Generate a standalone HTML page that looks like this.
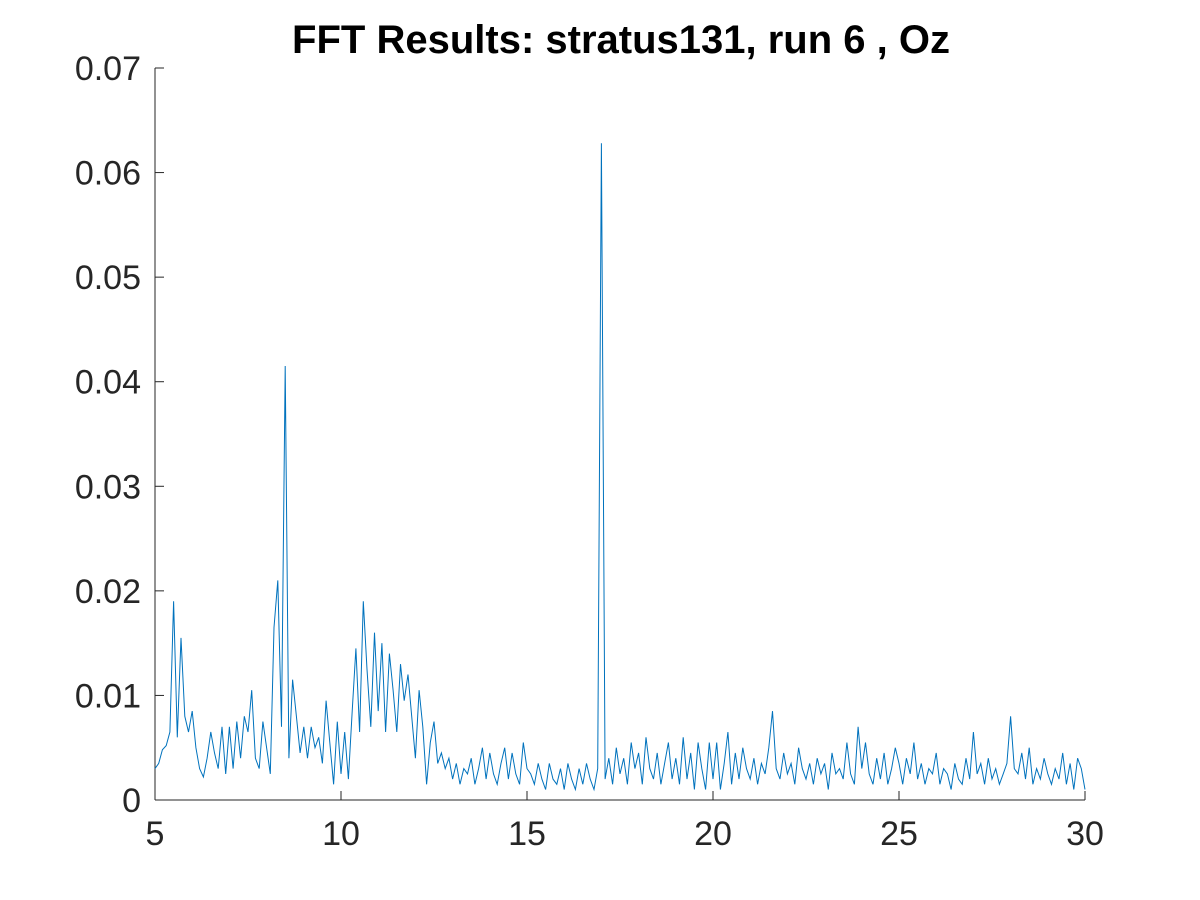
<!DOCTYPE html>
<html><head><meta charset="utf-8"><style>
body{margin:0;background:#fff}
svg{display:block}
text{font-family:"Liberation Sans",sans-serif;fill:#262626}
</style></head><body>
<svg id="chart" width="1200" height="900" xmlns="http://www.w3.org/2000/svg">
<rect width="1200" height="900" fill="#fff"/>
<text x="621" y="53" text-anchor="middle" font-size="40" font-weight="bold" style="fill:#000">FFT Results: stratus131, run 6 , Oz</text>
<g id="axes"></g>
<path id="series" fill="none" stroke="#0072BD" stroke-width="1"/>
</svg>
<script>
const xStart = 5;
const xStep = 0.1;
const amps = [
3.0,3.5,4.8,5.2,6.5,19.0,6.0,15.5,8.0,6.5,
8.5,5.0,3.0,2.2,4.0,6.5,4.5,3.0,7.0,2.5,
7.0,3.0,7.5,4.0,8.0,6.5,10.5,4.0,3.0,7.5,
5.0,2.5,16.5,21.0,7.0,41.5,4.0,11.5,8.0,4.5,
7.0,4.0,7.0,5.0,6.0,3.5,9.5,5.5,1.5,7.5,
2.5,6.5,2.0,8.5,14.5,6.5,19.0,12.5,7.0,16.0,
8.5,15.0,6.5,14.0,10.5,6.5,13.0,9.5,12.0,8.0,
4.0,10.5,7.0,1.5,5.5,7.5,3.5,4.5,3.0,4.0,
2.0,3.5,1.5,3.0,2.5,4.0,1.5,3.0,5.0,2.0,
4.5,2.5,1.5,3.5,5.0,2.0,4.5,2.5,1.5,5.5,
3.0,2.5,1.5,3.5,2.0,1.0,3.5,2.0,1.5,3.0,
1.0,3.5,2.0,1.0,3.0,1.5,3.5,2.0,1.0,3.0,
62.8,2.0,4.0,1.5,5.0,2.5,4.0,1.5,5.5,3.0,
4.5,1.5,6.0,3.0,2.0,4.5,1.5,3.5,5.5,2.0,
4.0,1.5,6.0,2.0,4.5,1.0,5.5,3.0,1.0,5.5,
2.0,5.5,1.0,3.5,6.5,1.5,4.5,2.0,5.0,3.0,
2.0,4.0,1.5,3.5,2.5,5.0,8.5,3.0,2.0,4.5,
2.5,3.5,1.5,5.0,3.0,2.0,3.5,1.5,4.0,2.5,
3.5,1.0,4.5,2.5,3.0,2.0,5.5,2.5,1.5,7.0,
3.0,5.5,2.5,1.5,4.0,2.0,4.5,1.5,3.0,5.0,
3.5,1.5,4.0,2.5,5.5,2.0,3.5,1.5,3.0,2.5,
4.5,1.5,3.0,2.5,1.0,3.5,2.0,1.5,4.0,2.0,
6.5,2.5,3.5,1.5,4.0,2.0,3.0,1.5,2.5,3.5,
8.0,3.0,2.5,4.5,2.0,5.0,1.5,3.0,2.0,4.0,
2.5,1.5,3.0,2.0,4.5,1.5,3.5,1.0,4.0,3.0,1.0
];
const xTicks = [5,10,15,20,25,30];
const yTicks = [0,0.01,0.02,0.03,0.04,0.05,0.06,0.07];
const yTickLabels = ["0","0.01","0.02","0.03","0.04","0.05","0.06","0.07"];

const X0=155,X1=1085,Y0=800,Y1=68;
const sx=v=>X0+(v-5)/25*(X1-X0);
const sy=v=>Y0-v/0.07*(Y0-Y1);
const NS="http://www.w3.org/2000/svg";
const ax=document.getElementById('axes');
function mk(t,a){const e=document.createElementNS(NS,t);for(const k in a)e.setAttribute(k,a[k]);return e;}
const xl=mk('line',{x1:X0,y1:Y0,x2:X1,y2:Y0,stroke:'#262626','stroke-width':1});


ax.appendChild(xl);
const yl=mk('line',{x1:X0,y1:Y0,x2:X0,y2:Y1,stroke:'#262626','stroke-width':1});


ax.appendChild(yl);
xTicks.forEach(v=>{
  const x=sx(v);
  const t=mk('line',{x1:x,y1:Y0,x2:x,y2:Y0-9,stroke:'#262626'});
  
  
  ax.appendChild(t);
  const l=mk('text',{x:x,y:Y0+45,'text-anchor':'middle','font-size':34});
  l.textContent=String(v);
  
  
  ax.appendChild(l);
});
yTicks.forEach((v,i)=>{
  const y=sy(v);
  const t=mk('line',{x1:X0,y1:y,x2:X0+9,y2:y,stroke:'#262626'});
  
  
  ax.appendChild(t);
  const l=mk('text',{x:X0-14,y:y+12,'text-anchor':'end','font-size':34});
  l.textContent=yTickLabels[i];
  
  
  ax.appendChild(l);
});
let d='';
amps.forEach((a,i)=>{const x=sx(xStart+i*xStep),y=sy(a/1000);d+=(i?'L':'M')+x.toFixed(1)+' '+y.toFixed(1);});
document.getElementById('series').setAttribute('d',d);
</script>
</body></html>
